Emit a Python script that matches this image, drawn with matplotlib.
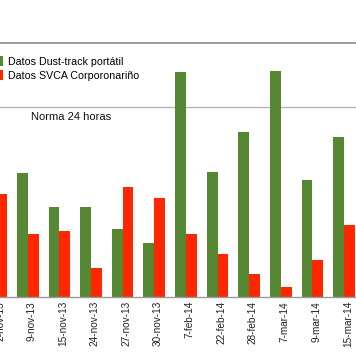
import matplotlib
matplotlib.use("Agg")
import matplotlib.pyplot as plt
import numpy as np

plt.rcParams['font.family'] = ['Liberation Sans', 'DejaVu Sans']

# Data (first group is cut off at the left edge)
fechas = ["2-nov-13", "9-nov-13", "15-nov-13", "24-nov-13", "27-nov-13", "30-nov-13",
          "7-feb-14", "22-feb-14", "28-feb-14", "7-mar-14", "9-mar-14", "15-mar-14"]
dust_track = [60.0, 65.3, 47.4, 47.4, 35.5, 28.1, 118.5, 65.7, 86.8, 119.2, 61.3, 84.3]
svca = [53.9, 33.0, 34.6, 14.9, 57.9, 52.1, 33.0, 22.4, 11.9, 4.9, 19.3, 37.6]
norma = 100
label_dust = "Datos Dust-track portátil"
label_svca = "Datos SVCA Corporonariño"
label_norma = "Norma 24 horas"

W, H = 356, 364
fig = plt.figure(figsize=(W / 100, H / 100), dpi=100)
ax = fig.add_axes([0, (H - 296.5) / H, 1, (296.5 - 43.3) / H])

x = np.arange(len(fechas))
bw = 0.342
green = '#568834'
red = '#FF2600'
ax.bar(x - bw / 2, dust_track, width=bw, color=green, label=label_dust)
ax.bar(x + bw / 2, svca, width=bw, color=red, label=label_svca)

ax.set_xlim(0.316, 11.38)
ax.set_ylim(0, 133.6)

ax.axhline(norma, color='#b4b4b4', lw=1.0, zorder=0.5)
ax.annotate(label_norma, xy=(31 / W, norma), xycoords=('axes fraction', 'data'),
            xytext=(0, -3.5), textcoords='offset points', ha='left', va='top',
            fontsize=8, color='#111111')

for s in ['left', 'right']:
    ax.spines[s].set_visible(False)
ax.spines['top'].set_color('#8c8c8c')
ax.spines['top'].set_linewidth(1.2)
ax.spines['bottom'].set_color('#9a9a9a')
ax.spines['bottom'].set_linewidth(1.0)

ax.set_yticks([])
ax.set_xticks(x + 0.12)
ax.set_xticklabels(fechas, rotation=90, fontsize=7.2, color='#222222')
ax.tick_params(axis='x', length=0, pad=3.2)

fig.legend(loc='upper left', bbox_to_anchor=(-8 / W, 1 - 56 / H),
           bbox_transform=fig.transFigure, frameon=False, fontsize=7.7,
           handlelength=1.05, handleheight=1.05, handletextpad=0.43,
           labelspacing=0.36, borderpad=0, borderaxespad=0)

fig.savefig('out.png', dpi=100)
